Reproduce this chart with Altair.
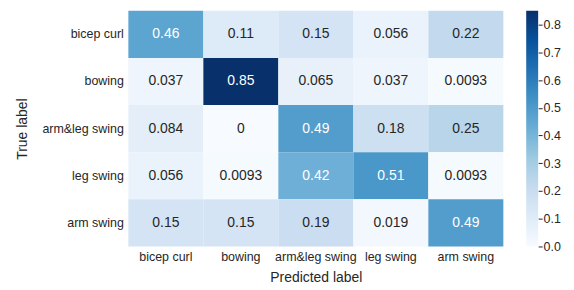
import altair as alt
import pandas as pd

true_labels = ["bicep curl", "bowing", "arm&leg swing", "leg swing", "arm swing"]
pred_labels = ["bicep curl", "bowing", "arm&leg swing", "leg swing", "arm swing"]
matrix = [
    [0.46, 0.11, 0.15, 0.056, 0.22],
    [0.037, 0.85, 0.065, 0.037, 0.0093],
    [0.084, 0.0, 0.49, 0.18, 0.25],
    [0.056, 0.0093, 0.42, 0.51, 0.0093],
    [0.15, 0.15, 0.19, 0.019, 0.49],
]
colorbar_ticks = [0.0, 0.1, 0.2, 0.3, 0.4, 0.5, 0.6, 0.7, 0.8]
blues = ["#f7fbff", "#deebf7", "#c6dbef", "#9ecae1", "#6baed6",
         "#4292c6", "#2171b5", "#08519c", "#08306b"]

rows = []
for i, t in enumerate(true_labels):
    for j, p in enumerate(pred_labels):
        rows.append({"true": t, "pred": p, "value": matrix[i][j]})
df = pd.DataFrame(rows)

vmax = max(max(r) for r in matrix)
dom = [vmax * k / (len(blues) - 1) for k in range(len(blues))]

FONT = "Liberation Sans"
TXT = "#262626"

base = alt.Chart(df).encode(
    x=alt.X("pred:N", sort=pred_labels, title="Predicted label",
            scale=alt.Scale(paddingInner=0, paddingOuter=0),
            axis=alt.Axis(labelAngle=0, ticks=False, domain=False, labelPadding=4,
                          titlePadding=8)),
    y=alt.Y("true:N", sort=true_labels, title="True label",
            scale=alt.Scale(paddingInner=0, paddingOuter=0),
            axis=alt.Axis(ticks=False, domain=False, labelPadding=5, titlePadding=12)),
)

rects = base.mark_rect(stroke=None).encode(
    color=alt.Color("value:Q",
                    scale=alt.Scale(domain=dom, range=blues, interpolate="rgb"),
                    legend=None),
)

texts = base.mark_text(font=FONT, fontSize=14).encode(
    text=alt.Text("value:Q", format=".2~g"),
    color=alt.condition(alt.datum.value > 0.35, alt.value("white"), alt.value(TXT)),
)

heat = (rects + texts).properties(width=377, height=237)

grad = alt.Gradient(
    gradient="linear",
    stops=[alt.GradientStop(offset=k / (len(blues) - 1), color=c) for k, c in enumerate(blues)],
    x1=0, x2=0, y1=1, y2=0,
)

cbar = alt.Chart(pd.DataFrame({"lo": [0.0], "hi": [vmax]})).mark_rect(
    color=grad, stroke=None
).encode(
    x=alt.value(0), x2=alt.value(12),
    y=alt.Y("lo:Q", scale=alt.Scale(domain=[0, vmax], nice=False, zero=False),
            axis=alt.Axis(orient="right", values=colorbar_ticks, format=".1f",
                          title=None, domain=False, grid=False, tickSize=4,
                          tickColor=TXT, tickWidth=1, labelPadding=1)),
    y2="hi:Q",
).properties(width=12, height=237)

chart = alt.hconcat(heat, cbar, spacing=23).properties(
    padding={"left": 8, "top": 2, "right": 5, "bottom": 5},
).configure_view(
    stroke=None
).configure_axis(
    grid=False, labelFont=FONT, titleFont=FONT, labelFontSize=12.5, titleFontSize=14,
    labelColor=TXT, titleColor=TXT, titleFontWeight="normal"
)

chart.save("out.html", embed_options={"renderer": "svg", "actions": False})
